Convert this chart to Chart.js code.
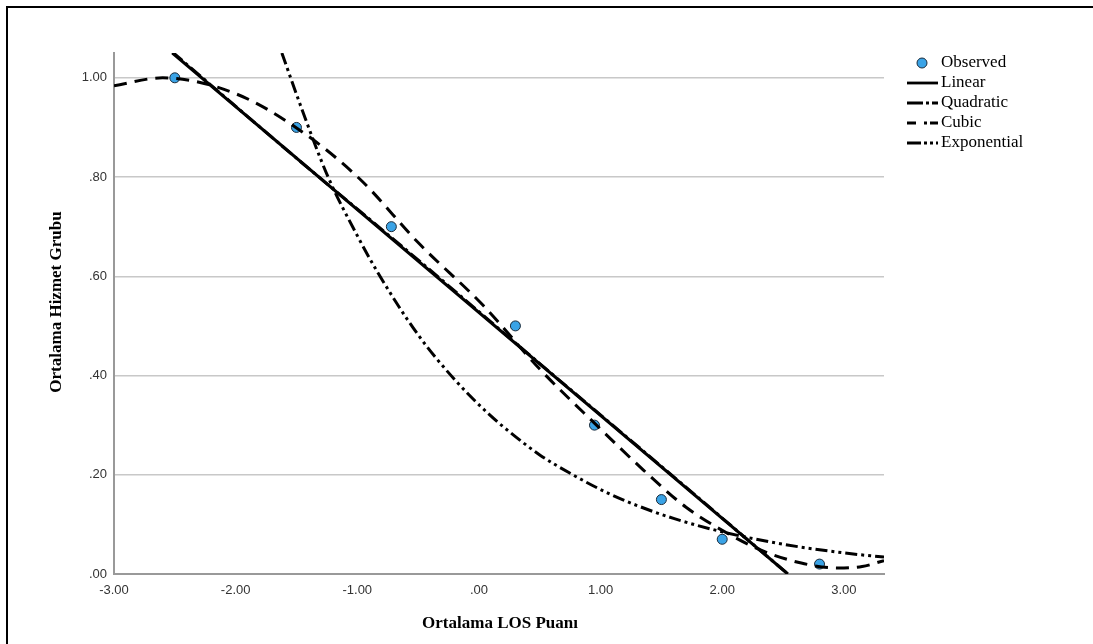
<!DOCTYPE html>
<html>
<head>
<meta charset="utf-8">
<script src="https://cdn.jsdelivr.net/npm/chart.js@4.4.1/dist/chart.umd.min.js"></script>
<style>
  html, body { margin: 0; padding: 0; background: #fff; }
  #wrap { position: relative; width: 1093px; height: 644px; overflow: hidden; }
  #frame { position: absolute; left: 6px; top: 6px; right: -10px; bottom: -10px;
           border-top: 2px solid #000; border-left: 2px solid #000; pointer-events: none; }
  canvas { position: absolute; left: 0; top: 0; }
</style>
</head>
<body>
<div id="wrap">
  <canvas id="c" width="1093" height="644"></canvas>
  <div id="frame"></div>
</div>
<script>
// ---- data ----
const xTicks = [-3, -2, -1, 0, 1, 2, 3];
const xTickLabels = ['-3.00', '-2.00', '-1.00', '.00', '1.00', '2.00', '3.00'];
const yTicks = [0, 0.2, 0.4, 0.6, 0.8, 1.0];
const yTickLabels = ['.00', '.20', '.40', '.60', '.80', '1.00'];

const observedX = [-2.5, -1.5, -0.72, 0.3, 0.95, 1.5, 2.0, 2.8];
const observedY = [1.00, 0.90, 0.70, 0.50, 0.30, 0.15, 0.07, 0.02];

const linearX = [-2.52, 2.54];
const linearY = [1.05, 0.0];

const quadraticX = [-2.52, -1.5, -0.5, 0.5, 1.5, 2.54];
const quadraticY = [1.052, 0.838, 0.633, 0.424, 0.217, 0.0];

const cubicX = [-3.0, -2.6, -2.0, -1.47, -0.975, -0.5, 0.04, 0.5, 0.975, 1.35, 1.7, 2.0, 2.3, 2.65, 2.95, 3.15, 3.33];
const cubicY = [0.984, 1.0, 0.968, 0.894, 0.795, 0.668, 0.540, 0.413, 0.298, 0.210, 0.135, 0.088, 0.050, 0.022, 0.012, 0.015, 0.027];

const expX = [-1.62, -1.45, -1.24, -1.0, -0.835, -0.5, -0.2, 0.1, 0.3, 0.5, 0.75, 1.06, 1.3, 1.6, 2.0, 2.5, 3.0, 3.33];
const expY = [1.05, 0.933, 0.80, 0.682, 0.609, 0.482, 0.392, 0.318, 0.277, 0.24, 0.203, 0.163, 0.138, 0.112, 0.085, 0.060, 0.0425, 0.034];

const legendLabels = ['Observed', 'Linear', 'Quadratic', 'Cubic', 'Exponential'];

// ---- build ----
const pts = (xs, ys) => xs.map((x, i) => ({ x: x, y: ys[i] }));

const dashQuad = [13, 4, 3, 4];
const dashCubic = [13, 8];
const dashExp = [12, 4, 3, 4, 3, 4];

const lineDs = (label, xs, ys, dash) => ({
  label: label,
  data: pts(xs, ys),
  showLine: true,
  borderColor: '#000',
  borderWidth: 3,
  borderDash: dash,
  pointRadius: 0,
  cubicInterpolationMode: 'monotone',
  fill: false,
  order: 1
});

const legendPlugin = {
  id: 'customLegend',
  afterDraw(chart) {
    const ctx = chart.ctx;
    ctx.save();
    // legend
    const lx0 = 907, lx1 = 938, tx = 941;
    const rows = [63, 83, 103, 123, 143];
    ctx.font = '17px "Liberation Serif", "Times New Roman", serif';
    ctx.fillStyle = '#000';
    ctx.textBaseline = 'middle';
    ctx.textAlign = 'left';
    // observed marker
    ctx.beginPath();
    ctx.arc(922, rows[0], 5, 0, Math.PI * 2);
    ctx.fillStyle = '#3aa3e6';
    ctx.fill();
    ctx.lineWidth = 1;
    ctx.strokeStyle = '#1b2b3a';
    ctx.stroke();
    ctx.fillStyle = '#000';
    ctx.fillText(legendLabels[0], tx, rows[0]);
    const dashes = [[], [16, 3, 3, 3], [9, 8, 3, 3], [14, 3, 3, 3, 3, 3]];
    for (let i = 1; i < 5; i++) {
      ctx.beginPath();
      ctx.setLineDash(dashes[i - 1]);
      ctx.lineWidth = 2.8;
      ctx.strokeStyle = '#000';
      ctx.moveTo(lx0, rows[i]);
      ctx.lineTo(lx1, rows[i]);
      ctx.stroke();
      ctx.setLineDash([]);
      ctx.fillText(legendLabels[i], tx, rows[i]);
    }
    // axis titles
    ctx.font = 'bold 17px "Liberation Serif", "Times New Roman", serif';
    ctx.textAlign = 'center';
    ctx.textBaseline = 'middle';
    ctx.fillText('Ortalama LOS Puanı', 500, 624);
    ctx.translate(57, 302);
    ctx.rotate(-Math.PI / 2);
    ctx.fillText('Ortalama Hizmet Grubu', 0, 0);
    ctx.restore();
  }
};

new Chart(document.getElementById('c'), {
  type: 'scatter',
  data: {
    datasets: [
      {
        label: 'Observed',
        data: pts(observedX, observedY),
        pointRadius: 5,
        pointHoverRadius: 5,
        pointBackgroundColor: '#3aa3e6',
        pointBorderColor: '#1b2b3a',
        pointBorderWidth: 1,
        showLine: false,
        order: 10
      },
      lineDs('Linear', linearX, linearY, []),
      lineDs('Quadratic', quadraticX, quadraticY, dashQuad),
      lineDs('Cubic', cubicX, cubicY, dashCubic),
      lineDs('Exponential', expX, expY, dashExp)
    ]
  },
  options: {
    responsive: false,
    animation: false,
    events: [],
    layout: { padding: { top: 53, right: 209, left: 0, bottom: 0 } },
    plugins: { legend: { display: false }, tooltip: { enabled: false } },
    scales: {
      x: {
        type: 'linear',
        min: -3,
        max: 3.33,
        afterBuildTicks: (axis) => { axis.ticks = xTicks.map(v => ({ value: v })); },
        afterFit: (axis) => { axis.height = 70; },
        ticks: {
          callback: (v) => { const i = xTicks.indexOf(v); return i >= 0 ? xTickLabels[i] : ''; },
          color: '#333',
          font: { family: '"Liberation Sans", Arial, sans-serif', size: 13 },
          padding: 9,
          maxRotation: 0
        },
        grid: { display: false, drawTicks: false },
        border: { display: true, color: '#999', width: 2 }
      },
      y: {
        type: 'linear',
        min: 0,
        max: 1.05,
        afterBuildTicks: (axis) => { axis.ticks = yTicks.map(v => ({ value: v })); },
        afterFit: (axis) => { axis.width = 114; },
        ticks: {
          callback: (v) => { const i = yTicks.findIndex(t => Math.abs(t - v) < 1e-9); return i >= 0 ? yTickLabels[i] : ''; },
          color: '#333',
          font: { family: '"Liberation Sans", Arial, sans-serif', size: 13 },
          padding: 7
        },
        grid: { color: '#c8c8c8', lineWidth: 1.5, drawTicks: false },
        border: { display: true, color: '#999', width: 2 }
      }
    }
  },
  plugins: [legendPlugin]
});
</script>
</body>
</html>
